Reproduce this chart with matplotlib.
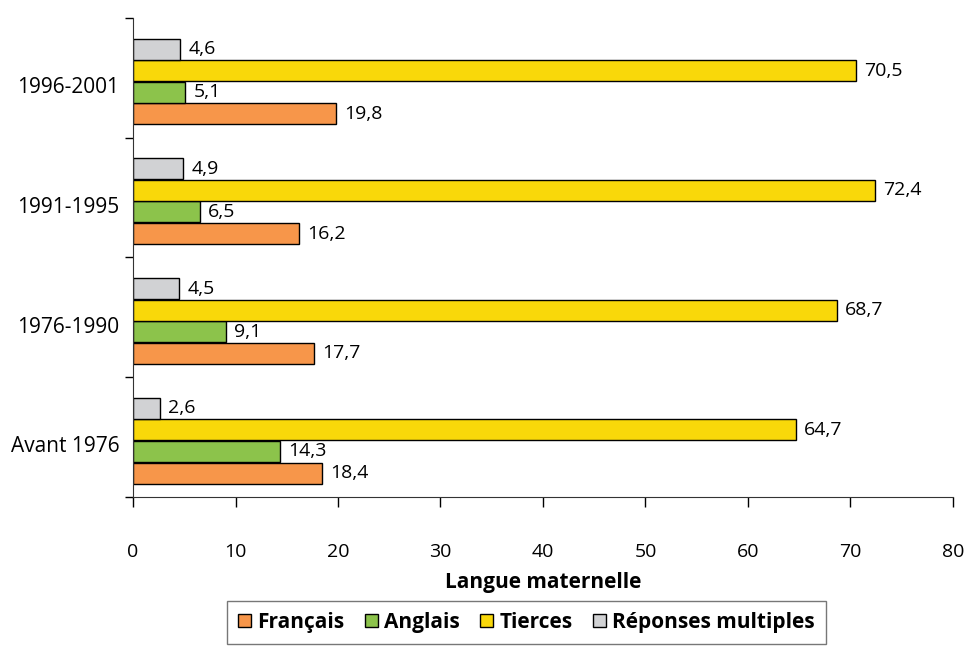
import matplotlib.pyplot as plt
import numpy as np

plt.rcParams['font.family'] = ['Open Sans', 'DejaVu Sans']

# data (bottom group first)
periodes = ['Avant 1976', '1976-1990', '1991-1995', '1996-2001']
francais = [18.4, 17.7, 16.2, 19.8]
anglais = [14.3, 9.1, 6.5, 5.1]
tierces = [64.7, 68.7, 72.4, 70.5]
multiples = [2.6, 4.5, 4.9, 4.6]

series = [
    ('Français', francais, '#F7964A', -0.30),
    ('Anglais', anglais, '#8CC34B', -0.12),
    ('Tierces', tierces, '#F9D80A', 0.06),
    ('Réponses multiples', multiples, '#D1D2D4', 0.24),
]

fig = plt.figure(figsize=(9.66, 6.51), dpi=100)
ax = fig.add_axes([0.1377, 0.2366, 0.8488, 0.7358])

y = np.arange(len(periodes))
h = 0.175
for nom, vals, col, off in series:
    bars = ax.barh(y + off, vals, height=h, color=col, edgecolor='black',
                   linewidth=1.0, label=nom)
    for b, v in zip(bars, vals):
        ax.text(v + 0.8, b.get_y() + h / 2, f'{v:.1f}'.replace('.', ','),
                va='center', ha='left', fontsize=14)

ax.set_xlim(0, 80)
ax.set_ylim(-0.5, 3.5)
ax.set_xticks(np.arange(0, 81, 10))
ax.tick_params(axis='x', labelsize=14, length=7, pad=26, width=1)
ax.set_yticks(np.arange(-0.5, 3.6, 1))
ax.set_yticklabels([])
ax.tick_params(axis='y', which='major', length=6, width=1)
ax.set_yticks(y - 0.06, minor=True)
ax.set_yticklabels(periodes, minor=True, fontsize=15)
ax.tick_params(axis='y', which='minor', length=0, pad=10)

for s in ['top', 'right']:
    ax.spines[s].set_visible(False)
for s in ['left', 'bottom']:
    ax.spines[s].set_color('#333333')

ax.set_xlabel('Langue maternelle', fontsize=15, fontweight='bold', labelpad=8)

handles, labels = ax.get_legend_handles_labels()
leg = fig.legend(handles, labels, loc='lower center', bbox_to_anchor=(0.545, -0.006),
                 ncol=4, frameon=True, fancybox=False, edgecolor='#555555',
                 prop={'weight': 'bold', 'size': 15}, handlelength=0.6,
                 handleheight=0.6, handletextpad=0.3, columnspacing=1.0,
                 borderpad=0.55)
leg.get_frame().set_linewidth(1.0)

fig.savefig('out.png', dpi=100)
